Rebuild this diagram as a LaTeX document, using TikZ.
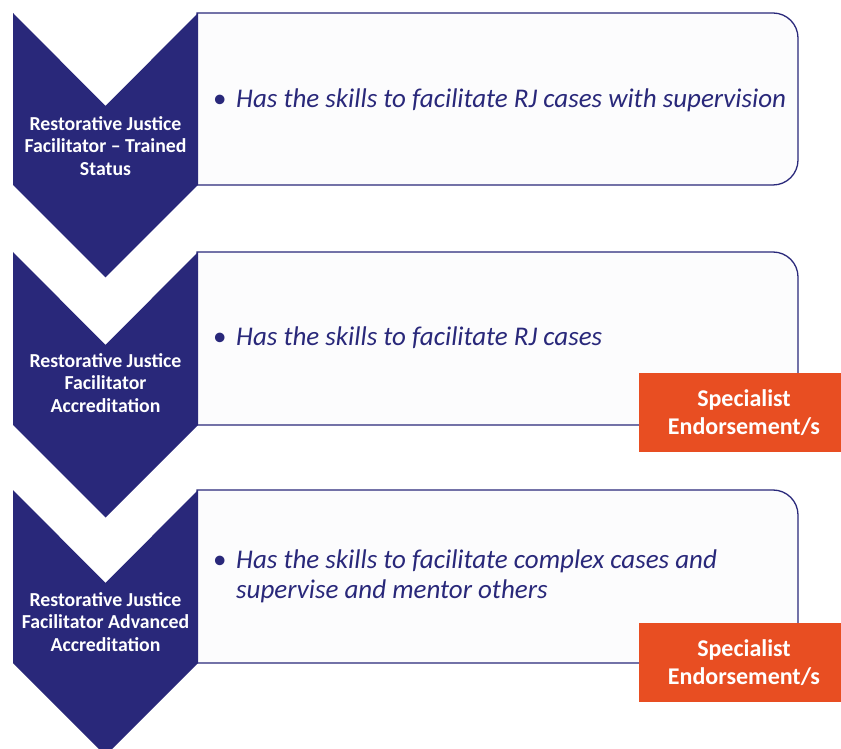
\documentclass[tikz,border=0pt]{standalone}
\usepackage{fontspec}
\setmainfont{Carlito}
\definecolor{navy}{HTML}{29287A}
\definecolor{orng}{HTML}{E84E22}
\definecolor{boxfill}{HTML}{FCFCFD}
\begin{document}
\begin{tikzpicture}[x=1pt,y=1pt,
  chev/.style={fill=navy,draw=none},
  rbox/.style={fill=boxfill,draw=navy,line width=1.3pt},
  chevtext/.style={text=white,font=\fontsize{19.8}{22.5}\selectfont\bfseries,align=center,inner sep=0pt},
  boxtext/.style={text=navy,font=\fontsize{27}{29.5}\selectfont\itshape,align=left,anchor=west,inner sep=0pt},
  endorse/.style={fill=orng,draw=none,minimum width=210pt,minimum height=79pt,inner sep=0pt,text=white,
     font=\fontsize{24}{28.5}\selectfont\bfseries,align=center}]
\useasboundingbox (0,0) rectangle (841,748);
\clip (0,0) rectangle (841,748);
% boxes (flat left side, rounded right corners)
\foreach \t/\b in {735/563,496/323,258/85}{
  \draw[rbox] (197,\t) -- (773,\t) arc[start angle=90,end angle=0,radius=25]
     -- (798,\b+25) arc[start angle=0,end angle=-90,radius=25] -- (197,\b) -- cycle;
}
% chevrons
\foreach \t/\s in {735/563,496/323,258/85}{
  \fill[chev] (13,\t) -- (105.5,\t-93) -- (198,\t) -- (198,\s) -- (105.5,\s-92.5) -- (13,\s) -- cycle;
}
\node[chevtext] (c1) at (105.5,602) {Restorative Justice\\Facilitator -- Trained\\Status};
\node[chevtext] (c2) at (105.5,365) {Restorative Justice\\Facilitator\\Accreditation};
\node[chevtext] (c3) at (105.5,126) {Restorative Justice\\Facilitator Advanced\\Accreditation};
\node[boxtext] (t1) at (213,648) {\makebox[23pt][l]{\upshape\textbullet}Has the skills to facilitate RJ cases with supervision};
\node[boxtext] (t2) at (213,410) {\makebox[23pt][l]{\upshape\textbullet}Has the skills to facilitate RJ cases};
\node[boxtext] (t3) at (213,171.5) {\makebox[23pt][l]{\upshape\textbullet}Has the skills to facilitate complex cases and\\\hspace*{23pt}supervise and mentor others};
\node[endorse] (e1) at (744,335.5) {Specialist\\Endorsement/s};
\node[endorse] (e2) at (744,85.5) {Specialist\\Endorsement/s};
\end{tikzpicture}
\end{document}
